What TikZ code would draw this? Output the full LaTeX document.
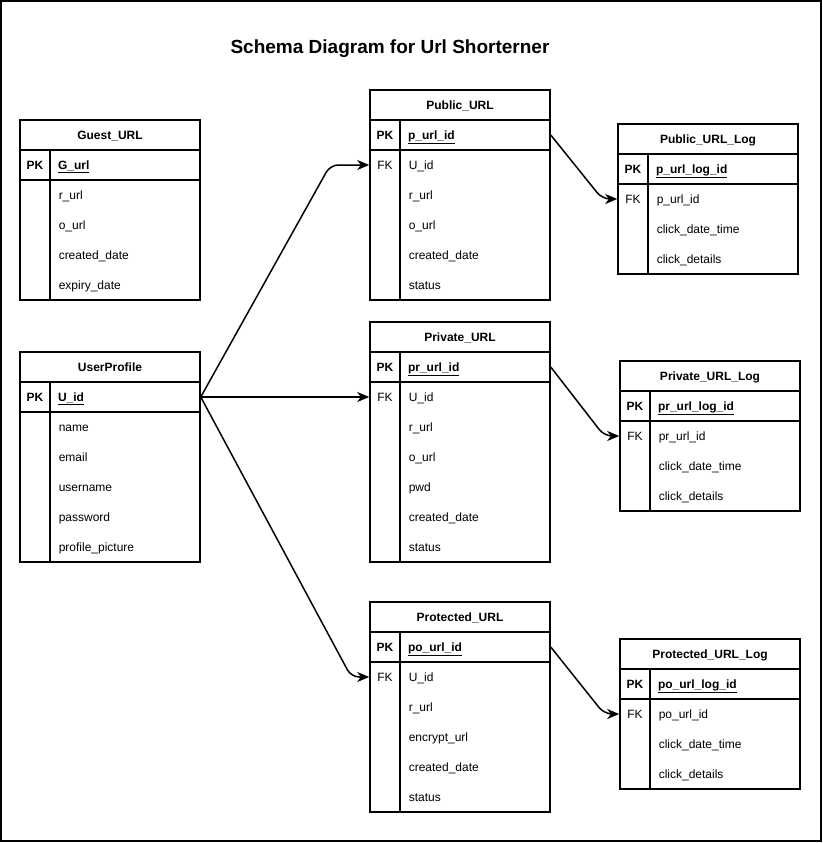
\documentclass[tikz,border=0pt]{standalone}
\usepackage{fontspec}
\setmainfont{Liberation Sans}
\usetikzlibrary{arrows.meta}

\begin{document}
\begin{tikzpicture}[x=1pt, y=-1pt, line width=1.5pt, font=\fontsize{12}{14}\selectfont,
	head/.style={draw, minimum width=180pt, minimum height=30pt, inner sep=0pt, text height=8.6pt, text depth=0pt, font=\fontsize{12}{14}\selectfont\bfseries},
	keybox/.style={draw, minimum width=30pt, minimum height=30pt, inner sep=0pt, text height=8.6pt, text depth=0pt, font=\fontsize{12}{14}\selectfont\bfseries},
	pkbox/.style={draw, minimum height=30pt, text width=134pt, inner xsep=8pt, inner ysep=0pt, align=left, text height=8.6pt, text depth=0pt, font=\fontsize{12}{14}\selectfont\bfseries},
	keycol/.style={draw, minimum width=30pt, inner sep=0pt},
	fieldcol/.style={draw, minimum width=150pt, inner sep=0pt},
	keytext/.style={minimum width=30pt, minimum height=30pt, inner sep=0pt, text height=8.6pt, text depth=0pt},
	field/.style={anchor=base west, inner sep=0pt, yshift=-4.3pt},
	rel/.style={-{Stealth[length=12pt, width=10pt, inset=3.5pt]}, rounded corners=8pt}]
	\useasboundingbox (0,0) rectangle (822,843);
	\draw (1,1) rectangle (821,841);
	\node[font=\fontsize{19}{22}\selectfont\bfseries, text height=13.6pt, text depth=0pt] (title) at (390,47) {Schema Diagram for Url Shorterner};
	
	% Guest_URL
	\node[head] (guest) at (110,135) {Guest\_URL};
	\node[keybox] (guestpkk) at (35,165) {PK};
	\node[pkbox] (guestpk) at (125,165) {\underline{G\_url}};
	\node[keycol, minimum height=120pt] (guestkc) at (35,240) {};
	\node[fieldcol, minimum height=120pt] (guestfc) at (125,240) {};
	\node[field] (guest1) at (58,195) {r\_url};
	\node[field] (guest2) at (58,225) {o\_url};
	\node[field] (guest3) at (58,255) {created\_date};
	\node[field] (guest4) at (58,285) {expiry\_date};
	
	% UserProfile
	\node[head] (up) at (110,367) {UserProfile};
	\node[keybox] (uppkk) at (35,397) {PK};
	\node[pkbox] (upk) at (125,397) {\underline{U\_id}};
	\node[keycol, minimum height=150pt] (upkc) at (35,487) {};
	\node[fieldcol, minimum height=150pt] (upfc) at (125,487) {};
	\node[field] (up1) at (58,427) {name};
	\node[field] (up2) at (58,457) {email};
	\node[field] (up3) at (58,487) {username};
	\node[field] (up4) at (58,517) {password};
	\node[field] (up5) at (58,547) {profile\_picture};
	
	% Public_URL
	\node[head] (pub) at (460,105) {Public\_URL};
	\node[keybox] (pubpkk) at (385,135) {PK};
	\node[pkbox] (pubpk) at (475,135) {\underline{p\_url\_id}};
	\node[keycol, minimum height=150pt] (pubkc) at (385,225) {};
	\node[fieldcol, minimum height=150pt] (pubfc) at (475,225) {};
	\node[keytext] (pubfk) at (385,165) {FK};
	\node[field] (pub1) at (408,165) {U\_id};
	\node[field] (pub2) at (408,195) {r\_url};
	\node[field] (pub3) at (408,225) {o\_url};
	\node[field] (pub4) at (408,255) {created\_date};
	\node[field] (pub5) at (408,285) {status};
	
	% Public_URL_Log
	\node[head] (publog) at (708,139) {Public\_URL\_Log};
	\node[keybox] (publogpkk) at (633,169) {PK};
	\node[pkbox] (publogpk) at (723,169) {\underline{p\_url\_log\_id}};
	\node[keycol, minimum height=90pt] (publogkc) at (633,229) {};
	\node[fieldcol, minimum height=90pt] (publogfc) at (723,229) {};
	\node[keytext] (publogfk) at (633,199) {FK};
	\node[field] (publog1) at (656,199) {p\_url\_id};
	\node[field] (publog2) at (656,229) {click\_date\_time};
	\node[field] (publog3) at (656,259) {click\_details};
	
	% Private_URL
	\node[head] (priv) at (460,337) {Private\_URL};
	\node[keybox] (privpkk) at (385,367) {PK};
	\node[pkbox] (privpk) at (475,367) {\underline{pr\_url\_id}};
	\node[keycol, minimum height=180pt] (privkc) at (385,472) {};
	\node[fieldcol, minimum height=180pt] (privfc) at (475,472) {};
	\node[keytext] (privfk) at (385,397) {FK};
	\node[field] (priv1) at (408,397) {U\_id};
	\node[field] (priv2) at (408,427) {r\_url};
	\node[field] (priv3) at (408,457) {o\_url};
	\node[field] (priv4) at (408,487) {pwd};
	\node[field] (priv5) at (408,517) {created\_date};
	\node[field] (priv6) at (408,547) {status};
	
	% Private_URL_Log
	\node[head] (privlog) at (710,376) {Private\_URL\_Log};
	\node[keybox] (privlogpkk) at (635,406) {PK};
	\node[pkbox] (privlogpk) at (725,406) {\underline{pr\_url\_log\_id}};
	\node[keycol, minimum height=90pt] (privlogkc) at (635,466) {};
	\node[fieldcol, minimum height=90pt] (privlogfc) at (725,466) {};
	\node[keytext] (privlogfk) at (635,436) {FK};
	\node[field] (privlog1) at (658,436) {pr\_url\_id};
	\node[field] (privlog2) at (658,466) {click\_date\_time};
	\node[field] (privlog3) at (658,496) {click\_details};
	
	% Protected_URL
	\node[head] (prot) at (460,617) {Protected\_URL};
	\node[keybox] (protpkk) at (385,647) {PK};
	\node[pkbox] (protpk) at (475,647) {\underline{po\_url\_id}};
	\node[keycol, minimum height=150pt] (protkc) at (385,737) {};
	\node[fieldcol, minimum height=150pt] (protfc) at (475,737) {};
	\node[keytext] (protfk) at (385,677) {FK};
	\node[field] (prot1) at (408,677) {U\_id};
	\node[field] (prot2) at (408,707) {r\_url};
	\node[field] (prot3) at (408,737) {encrypt\_url};
	\node[field] (prot4) at (408,767) {created\_date};
	\node[field] (prot5) at (408,797) {status};
	
	% Protected_URL_Log
	\node[head] (protlog) at (710,654) {Protected\_URL\_Log};
	\node[keybox] (protlogpkk) at (635,684) {PK};
	\node[pkbox] (protlogpk) at (725,684) {\underline{po\_url\_log\_id}};
	\node[keycol, minimum height=90pt] (protlogkc) at (635,744) {};
	\node[fieldcol, minimum height=90pt] (protlogfc) at (725,744) {};
	\node[keytext] (protlogfk) at (635,714) {FK};
	\node[field] (protlog1) at (658,714) {po\_url\_id};
	\node[field] (protlog2) at (658,744) {click\_date\_time};
	\node[field] (protlog3) at (658,774) {click\_details};
	
	\draw[rel] (upk.east) -- ([xshift=-39pt]pubfk.west) -- (pubfk.west);
	\draw[rel] (upk.east) -- (privfk.west);
	\draw[rel] (upk.east) -- ([xshift=-18pt]protfk.west) -- (protfk.west);
	
	\draw[rel] (pubpk.east) -- ([xshift=-15pt]publogfk.west) -- (publogfk.west);
	\draw[rel] (privpk.east) -- ([xshift=-15pt]privlogfk.west) -- (privlogfk.west);
	\draw[rel] (protpk.east) -- ([xshift=-15pt]protlogfk.west) -- (protlogfk.west);
\end{tikzpicture}
\end{document}
